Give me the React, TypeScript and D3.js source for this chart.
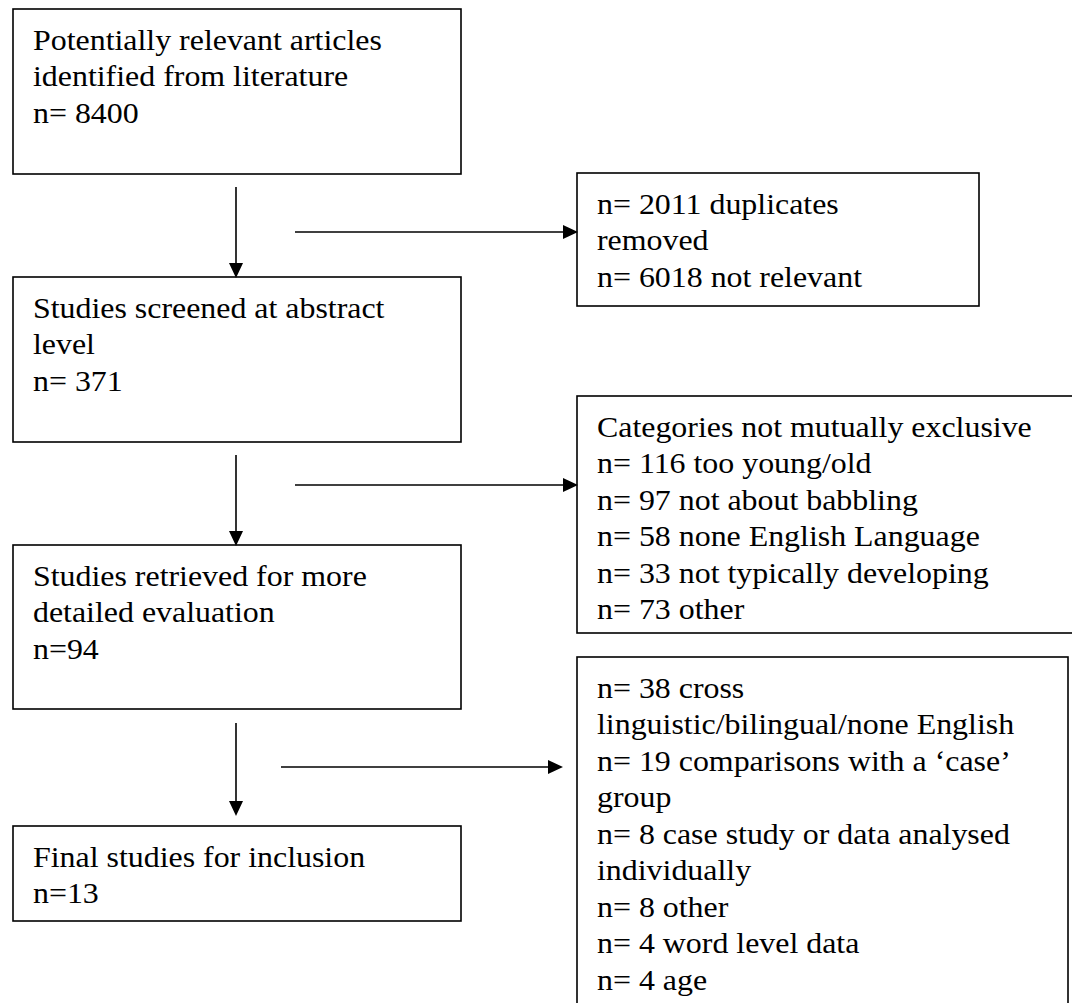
import { useEffect, useRef } from 'react'
import * as d3 from 'd3'

// flow steps (left column)
const mainSteps: string[][] = [
  ['Potentially relevant articles', 'identified from literature', 'n= 8400'],
  ['Studies screened at abstract', 'level', 'n= 371'],
  ['Studies retrieved for more', 'detailed evaluation', 'n=94'],
  ['Final studies for inclusion', 'n=13'],
]

// exclusions (right column)
const exclusions: string[][] = [
  ['n= 2011 duplicates', 'removed', 'n= 6018 not relevant'],
  [
    'Categories not mutually exclusive',
    'n= 116 too young/old',
    'n= 97 not about babbling',
    'n= 58 none English Language',
    'n= 33 not typically developing',
    'n= 73 other',
  ],
  [
    'n= 38 cross',
    'linguistic/bilingual/none English',
    'n= 19 comparisons with a \u2018case\u2019',
    'group',
    'n= 8 case study or data analysed',
    'individually',
    'n= 8 other',
    'n= 4 word level data',
    'n= 4 age',
  ],
]

const W = 1072
const H = 1003
const FONT = '"Liberation Serif", "Times New Roman", serif'
const FS = 29
const STRETCH = 1.1 // source image is a little wider than tall
const LINE = 36.5

// box layout [x0, y0, x1, y1]
const mainBoxes = [
  [13, 9, 461, 174],
  [13, 277, 461, 442],
  [13, 545, 461, 709],
  [13, 826, 461, 921],
]
const sideBoxes = [
  [577, 173, 979, 306],
  [577, 396, 1090, 633],
  [577, 657, 1068, 1020],
]
// arrows [x0, y0, x1, y1]
const downArrows = [
  [236, 187, 236, 278],
  [236, 455, 236, 546],
  [236, 723, 236, 816],
]
const sideArrows = [
  [295, 232, 578, 232],
  [295, 485, 578, 485],
  [281, 767, 563, 767],
]

export default function App() {
  const ref = useRef<SVGSVGElement>(null)

  useEffect(() => {
    const svg = d3.select(ref.current)
    svg.selectAll('*').remove()

    const drawBox = (b: number[], lines: string[]) => {
      svg.append('rect')
        .attr('x', b[0]).attr('y', b[1])
        .attr('width', b[2] - b[0]).attr('height', b[3] - b[1])
        .attr('fill', 'none').attr('stroke', '#000').attr('stroke-width', 1.6)
      const t = svg.append('text')
        .attr('transform', `translate(${b[0] + 20},0) scale(${STRETCH},1)`)
        .attr('font-family', FONT).attr('font-size', FS).attr('fill', '#000')
      t.selectAll('tspan')
        .data(lines)
        .join('tspan')
        .attr('x', 0)
        .attr('y', (_, i) => b[1] + 41 + i * LINE)
        .text(d => d)
    }

    mainSteps.forEach((lines, i) => drawBox(mainBoxes[i], lines))
    exclusions.forEach((lines, i) => drawBox(sideBoxes[i], lines))

    const head = 15
    const half = 7
    const drawArrow = (a: number[]) => {
      const [x0, y0, x1, y1] = a
      const len = Math.hypot(x1 - x0, y1 - y0)
      const ux = (x1 - x0) / len
      const uy = (y1 - y0) / len
      const bx = x1 - ux * head
      const by = y1 - uy * head
      svg.append('path')
        .attr('d', d3.line()([[x0, y0], [bx, by]]))
        .attr('stroke', '#000').attr('stroke-width', 1.6).attr('fill', 'none')
      svg.append('path')
        .attr('d', d3.line()([
          [x1, y1],
          [bx - uy * half, by + ux * half],
          [bx + uy * half, by - ux * half],
        ]) + 'Z')
        .attr('fill', '#000')
    }
    downArrows.forEach(drawArrow)
    sideArrows.forEach(drawArrow)
  }, [])

  return (
    <svg
      ref={ref}
      width={W}
      height={H}
      style={{ position: 'absolute', left: 0, top: 0, background: '#fff' }}
    />
  )
}
